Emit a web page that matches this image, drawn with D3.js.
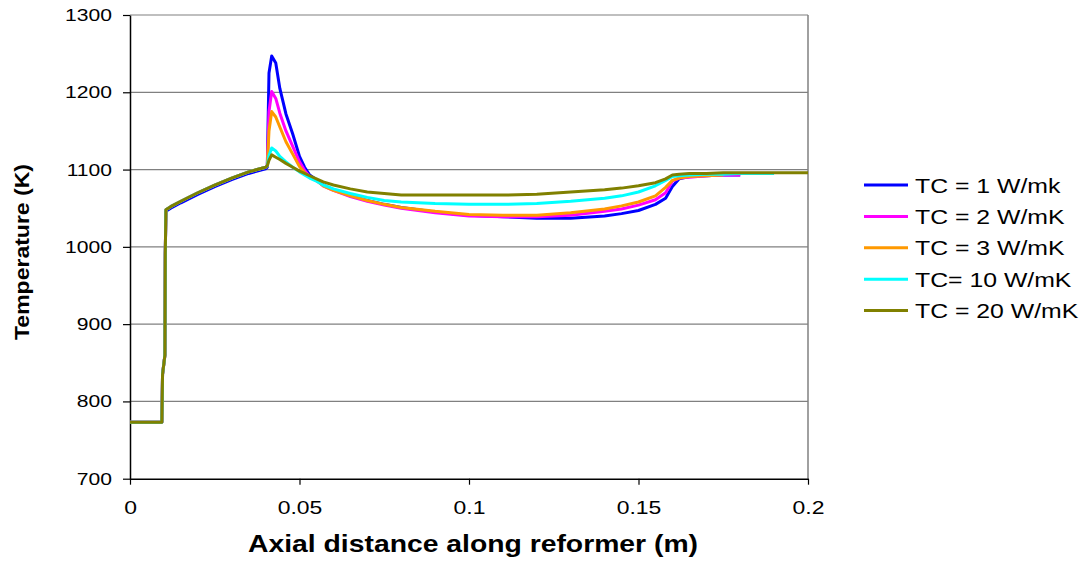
<!DOCTYPE html>
<html>
<head>
<meta charset="utf-8">
<script src="https://cdn.jsdelivr.net/npm/d3@7"></script>
<style>
  body { margin: 0; background: #fff; }
  text { font-family: "Liberation Sans", Arial, sans-serif; fill: #000; }
</style>
</head>
<body>
<div id="container"></div>
<script>
// axial distance (m), shared by all series
const distance = [
  0, 0.0094, 0.0096, 0.0103, 0.0104, 0.0106, 0.012, 0.015, 0.02, 0.025,
  0.03, 0.035, 0.04, 0.0405, 0.041, 0.0418, 0.043, 0.0442, 0.046, 0.048,
  0.05, 0.0515, 0.053, 0.055, 0.057, 0.06, 0.065, 0.07, 0.075, 0.08,
  0.09, 0.1, 0.11, 0.12, 0.13, 0.14, 0.145, 0.15, 0.155, 0.158,
  0.16, 0.162, 0.165, 0.17, 0.175, 0.18, 0.185, 0.19, 0.2
];

// temperature (K) for each thermal conductivity, null = no data
const tc1 = [
  773, 773, 835, 860, 990, 1046, 1050, 1057, 1068, 1078,
  1087, 1095, 1101, 1103, 1225, 1247, 1238, 1205, 1172, 1146,
  1117, 1103, 1093, 1087, 1080, 1074, 1066, 1060, 1055, 1051,
  1045, 1041, 1039, 1037, 1037, 1040, 1043, 1047, 1055, 1063,
  1078, 1088, 1091, 1092, 1093, 1093, null, null, null
];
const tc2 = [
  773, 773, 835, 860, 990, 1048, 1052, 1059, 1070, 1080,
  1089, 1097, 1103, 1105, 1175, 1201, 1192, 1173, 1150, 1130,
  1110, 1099, 1091, 1086, 1079, 1073, 1065, 1059, 1054, 1050,
  1044, 1040, 1039, 1039, 1041, 1046, 1049, 1054, 1061, 1070,
  1085, 1089, 1090, 1092, 1093, 1093, null, null, null
];
const tc3 = [
  773, 773, 835, 860, 990, 1048, 1052, 1059, 1070, 1080,
  1089, 1097, 1103, 1105, 1150, 1175, 1168, 1155, 1136, 1120,
  1104, 1096, 1090, 1086, 1079, 1073, 1066, 1060, 1055, 1051,
  1046, 1042, 1041, 1041, 1044, 1049, 1053, 1058, 1066, 1077,
  1086, 1089, 1091, 1092, 1093, null, null, null, null
];
const tc10 = [
  773, 773, 835, 860, 990, 1048, 1052, 1059, 1070, 1080,
  1089, 1097, 1103, 1105, 1118, 1128, 1124, 1117, 1110, 1103,
  1097, 1093, 1089, 1085, 1080, 1075, 1069, 1064, 1060, 1058,
  1056, 1055, 1055, 1056, 1059, 1063, 1066, 1071, 1079, 1086,
  1091, 1092, 1093, 1094, 1094, 1095, 1095, 1095, null
];
const tc20 = [
  773, 773, 835, 860, 990, 1048, 1052, 1059, 1070, 1080,
  1089, 1097, 1103, 1105, 1112, 1119, 1116, 1113, 1108, 1103,
  1098, 1095, 1092, 1088, 1084, 1080, 1075, 1071, 1069, 1067,
  1067, 1067, 1067, 1068, 1071, 1074, 1076, 1079, 1083, 1088,
  1093, 1094, 1095, 1095, 1096, 1096, 1096, 1096, 1096
];

const seriesNames = ["TC = 1 W/mk", "TC = 2 W/mK", "TC = 3 W/mK", "TC= 10 W/mK", "TC = 20 W/mK"];
const seriesValues = [tc1, tc2, tc3, tc10, tc20];
const seriesColors = ["#0000ff", "#ff00ff", "#ff9900", "#00ffff", "#808000"];

const xTicks = [0, 0.05, 0.1, 0.15, 0.2];
const yTicks = [700, 800, 900, 1000, 1100, 1200, 1300];

// the original picture is stretched sideways, so text is widened too
const STRETCH = 1.24;

draw();

function draw() {
  const width = 1085;
  const height = 562;
  const left = 130, right = 808, top = 15, bottom = 478.7;

  const svg = d3.select("#container")
    .append("svg")
    .attr("width", width)
    .attr("height", height)
    .style("display", "block");

  const x = d3.scaleLinear().domain([0, 0.2]).range([left, right]);
  const y = d3.scaleLinear().domain([700, 1300]).range([bottom, top]);

  // horizontal grid lines
  svg.append("g")
    .selectAll("line")
    .data(yTicks.filter((t) => t > 700))
    .enter()
    .append("line")
    .attr("x1", left)
    .attr("x2", right)
    .attr("y1", (d) => y(d))
    .attr("y2", (d) => y(d))
    .attr("stroke", "#808080")
    .attr("stroke-width", 1.2);

  // right border of the plot area
  svg.append("line")
    .attr("x1", right).attr("x2", right)
    .attr("y1", top).attr("y2", bottom)
    .attr("stroke", "#808080")
    .attr("stroke-width", 1.5);

  // axes
  const xAxis = d3.axisBottom(x).tickValues(xTicks).tickSize(6).tickSizeOuter(0)
    .tickFormat((d) => String(d));
  const yAxis = d3.axisLeft(y).tickValues(yTicks).tickSize(7).tickSizeOuter(0)
    .tickFormat((d) => String(d));

  const gx = svg.append("g")
    .attr("transform", "translate(0," + bottom + ")")
    .call(xAxis);
  gx.select(".domain").attr("stroke", "#000").attr("stroke-width", 1.5);
  gx.selectAll(".tick line").attr("stroke", "#000").attr("stroke-width", 1.2);
  gx.selectAll(".tick text")
    .attr("y", 22)
    .attr("dy", "0.71em")
    .style("font-size", "18.5px")
    .style("font-family", "Liberation Sans, Arial, sans-serif");

  const gy = svg.append("g")
    .attr("transform", "translate(" + left + ",0)")
    .call(yAxis);
  gy.select(".domain").attr("stroke", "#000").attr("stroke-width", 1.5);
  gy.selectAll(".tick line").attr("stroke", "#000").attr("stroke-width", 1.2);
  gy.selectAll(".tick text")
    .attr("x", -18)
    .style("font-size", "17px")
    .style("font-family", "Liberation Sans, Arial, sans-serif");

  // series lines, blue at the bottom, olive on top
  const line = d3.line()
    .defined((d) => d[1] !== null)
    .x((d) => x(d[0]))
    .y((d) => y(d[1]));

  seriesValues.forEach((vals, i) => {
    svg.append("path")
      .datum(distance.map((dist, j) => [dist, vals[j]]))
      .attr("fill", "none")
      .attr("stroke", seriesColors[i])
      .attr("stroke-width", 3)
      .attr("stroke-linejoin", "round")
      .attr("d", line);
  });

  // axis titles
  svg.append("text")
    .attr("x", 473)
    .attr("y", 552)
    .attr("text-anchor", "middle")
    .attr("textLength", 450)
    .attr("lengthAdjust", "spacingAndGlyphs")
    .style("font-size", "24px")
    .style("font-weight", "bold")
    .text("Axial distance along reformer (m)");

  svg.append("text")
    .attr("transform", "translate(29,252) rotate(-90)")
    .attr("text-anchor", "middle")
    .attr("textLength", 176)
    .attr("lengthAdjust", "spacingAndGlyphs")
    .style("font-size", "21px")
    .style("font-weight", "bold")
    .text("Temperature (K)");

  // legend
  const legend = svg.append("g");
  seriesNames.forEach((name, i) => {
    const ly = 185 + i * 31.4;
    legend.append("line")
      .attr("x1", 864).attr("x2", 908)
      .attr("y1", ly).attr("y2", ly)
      .attr("stroke", seriesColors[i])
      .attr("stroke-width", 3);
    legend.append("text")
      .attr("x", 915)
      .attr("y", ly + 7.5)
      .attr("class", "stretch")
      .style("font-size", "20px")
      .text(name);
  });

  // widen the horizontal texts to match the stretched picture
  svg.selectAll(".tick text, .stretch").each(function () {
    const w = this.getComputedTextLength();
    this.setAttribute("textLength", w * STRETCH);
    this.setAttribute("lengthAdjust", "spacingAndGlyphs");
  });
}
</script>
</body>
</html>
